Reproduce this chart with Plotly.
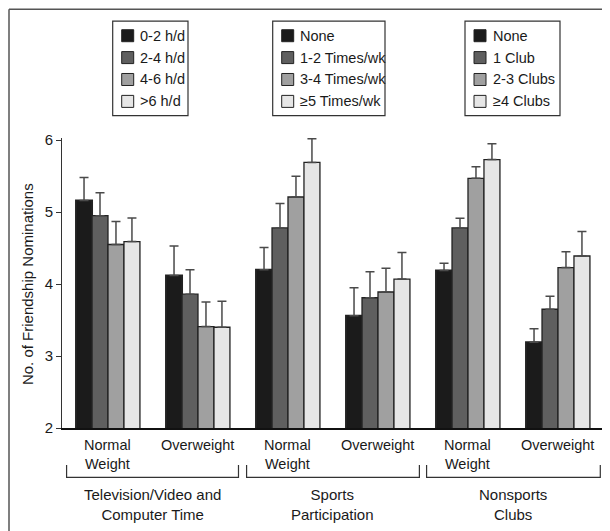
import plotly.graph_objects as go

# ---------------- data ----------------
positions = [0, 1, 2, 3, 4, 5]  # TV-NW, TV-OW, Sports-NW, Sports-OW, Clubs-NW, Clubs-OW
level_names = ["Level 1", "Level 2", "Level 3", "Level 4"]
means_l1 = [5.16, 4.12, 4.20, 3.56, 4.19, 3.19]
means_l2 = [4.95, 3.86, 4.78, 3.81, 4.78, 3.65]
means_l3 = [4.55, 3.41, 5.21, 3.89, 5.47, 4.23]
means_l4 = [4.59, 3.40, 5.69, 4.07, 5.73, 4.39]
err_l1 = [0.32, 0.41, 0.31, 0.39, 0.10, 0.19]
err_l2 = [0.32, 0.34, 0.34, 0.36, 0.135, 0.18]
err_l3 = [0.32, 0.34, 0.29, 0.33, 0.16, 0.22]
err_l4 = [0.33, 0.36, 0.33, 0.37, 0.22, 0.34]

weight_labels = ["Normal<br>Weight", "Overweight"]
group_labels = ["Television/Video and<br>Computer Time",
                "Sports<br>Participation",
                "Nonsports<br>Clubs"]
legend_tv = ["0-2 h/d", "2-4 h/d", "4-6 h/d", ">6 h/d"]
legend_sports = ["None", "1-2 Times/wk", "3-4 Times/wk", "\u22655 Times/wk"]
legend_clubs = ["None", "1 Club", "2-3 Clubs", "\u22654 Clubs"]

y_ticks = [2, 3, 4, 5, 6]
y_title = "No. of Friendship Nominations"

# ---------------- styling ----------------
colors = ["#1b1b1b", "#5f5f5f", "#a0a0a0", "#e6e6e6"]
FONT = "Liberation Sans, Arial, Helvetica, sans-serif"
TXT = "#1a1a1a"
FS = 14.5

OFF = 8                       # page body margin of the html page
PAGE_W, PAGE_H = 610, 531
WIDTH, HEIGHT = PAGE_W - OFF, PAGE_H - OFF
L, R_EDGE = 62, 602           # page pixels
B = 428
YMAX = 6.03
PX_PER_UNIT = 72
H = (YMAX - 2) * PX_PER_UNIT
T = B - H
W = R_EDGE - L


def px2x(px):
    return (px - L) / W


def py2y(py):
    return (B - py) / H


fig = go.Figure()
all_means = [means_l1, means_l2, means_l3, means_l4]
all_errs = [err_l1, err_l2, err_l3, err_l4]
for i in range(4):
    fig.add_trace(go.Bar(
        x=positions, y=all_means[i], name=level_names[i],
        marker=dict(color=colors[i], line=dict(color="#222222", width=1.3 if i else 2)),
        error_y=dict(type="data", symmetric=False, array=all_errs[i],
                     arrayminus=[0] * len(positions), color="#4a4a4a",
                     thickness=1.5, width=4.5),
        showlegend=False,
    ))

shapes = []
annotations = []

# outer frame (left and top edges)
shapes.append(dict(type="line", xref="paper", yref="paper",
                   x0=px2x(9), x1=px2x(9), y0=py2y(9), y1=py2y(545),
                   line=dict(color="#555555", width=1.5)))
shapes.append(dict(type="line", xref="paper", yref="paper",
                   x0=px2x(9), x1=px2x(625), y0=py2y(9), y1=py2y(9),
                   line=dict(color="#555555", width=1.5)))

# x category labels (top aligned so that the first line sits at the same height)
for g in range(3):
    for j in range(2):
        k = positions[2 * g + j]
        annotations.append(dict(
            x=k, xref="x", y=py2y(435), yref="paper",
            text=weight_labels[j], showarrow=False, xanchor="center", yanchor="top",
            font=dict(family=FONT, size=FS, color=TXT)))

# brackets & group labels
bracket_pad = [(-0.46, 1.45), (-0.46, 1.46), (-0.46, 1.47)]
for g in range(3):
    a = positions[2 * g] + bracket_pad[g][0]
    b = positions[2 * g] + bracket_pad[g][1]
    yb = py2y(477.5)
    yt = py2y(465)
    shapes.append(dict(type="path", xref="x", yref="paper",
                       path=f"M {a},{yt} L {a},{yb} L {b},{yb} L {b},{yt}",
                       line=dict(color="#333333", width=1.2)))
    cx = (positions[2 * g] + positions[2 * g + 1]) / 2
    annotations.append(dict(
        x=cx, xref="x", y=py2y(504.5), yref="paper",
        text=group_labels[g], showarrow=False, xanchor="center", yanchor="middle",
        font=dict(family=FONT, size=15, color=TXT)))

# legend boxes
boxes = [(112.7, 188), (272.7, 385), (465, 560)]
legends = [legend_tv, legend_sports, legend_clubs]
for (bx0, bx1), labels in zip(boxes, legends):
    shapes.append(dict(type="rect", xref="paper", yref="paper",
                       x0=px2x(bx0), x1=px2x(bx1), y0=py2y(21), y1=py2y(115.5),
                       line=dict(color="#333333", width=1.2), fillcolor="white"))
    for i, lab in enumerate(labels):
        cy = 35.5 + 21.9 * i
        shapes.append(dict(type="rect", xref="paper", yref="paper",
                           x0=px2x(bx0 + 9), x1=px2x(bx0 + 21),
                           y0=py2y(cy - 6), y1=py2y(cy + 6),
                           line=dict(color="#222222", width=1), fillcolor=colors[i]))
        annotations.append(dict(
            x=px2x(bx0 + 25.5), xref="paper", y=py2y(cy), yref="paper",
            text=lab, showarrow=False, xanchor="left", yanchor="middle",
            font=dict(family=FONT, size=FS, color=TXT)))

# y title
annotations.append(dict(
    x=px2x(27), xref="paper", y=py2y(284), yref="paper", text=y_title,
    textangle=-90, showarrow=False, xanchor="center", yanchor="middle",
    font=dict(family=FONT, size=15, color=TXT)))

fig.update_layout(
    width=WIDTH, height=HEIGHT,
    margin=dict(l=L - OFF, r=PAGE_W - R_EDGE, t=T - OFF, b=PAGE_H - B, autoexpand=False),
    paper_bgcolor="white", plot_bgcolor="white",
    barmode="group", bargap=0.29, bargroupgap=0,
    shapes=shapes, annotations=annotations,
    font=dict(family=FONT, size=FS, color=TXT),
    xaxis=dict(range=[-0.511, 5.489], showline=True, linecolor="#111111", linewidth=1.5,
               showticklabels=False, ticks="", showgrid=False, zeroline=False,
               fixedrange=True),
    yaxis=dict(range=[2, YMAX], tickvals=y_ticks, ticks="outside", ticklen=5,
               tickcolor="#333333", showline=True, linecolor="#333333", linewidth=1,
               showgrid=False, zeroline=False,
               tickfont=dict(family=FONT, size=15, color=TXT)),
)

fig.write_html("out.html")
